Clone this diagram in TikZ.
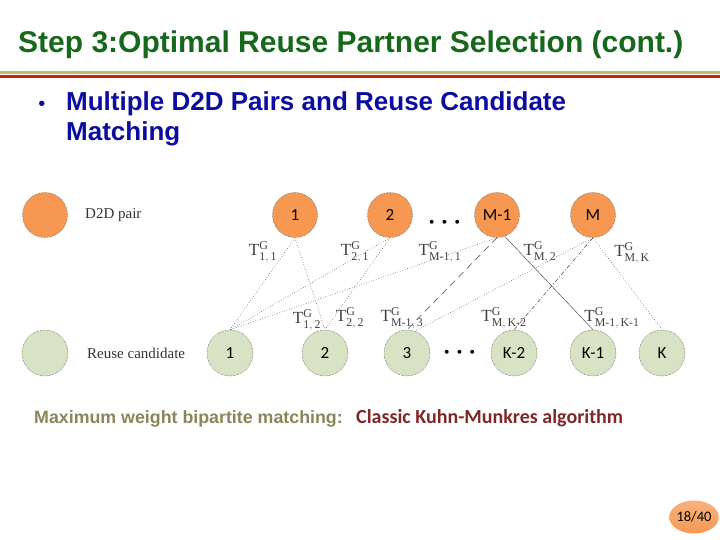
\documentclass[tikz,border=0pt]{standalone}
\usepackage{amsmath}
\usepackage{fontspec}
\setmainfont{Liberation Serif}
\newfontfamily\arialf{Liberation Sans}
\newfontfamily\calib{Carlito}
\usetikzlibrary{shapes.geometric}
\definecolor{titlegreen}{RGB}{22,104,26}
\definecolor{lineolive}{RGB}{190,188,105}
\definecolor{linered}{RGB}{200,36,12}
\definecolor{bulletblue}{RGB}{12,12,160}
\definecolor{d2dorange}{RGB}{246,152,82}
\definecolor{candgreen}{RGB}{216,226,196}
\definecolor{edgegray}{RGB}{70,70,70}
\definecolor{olivetext}{RGB}{138,134,90}
\definecolor{darkredtext}{RGB}{128,40,40}
\tikzset{
  pairnode/.style={circle, fill=d2dorange, draw=black!70, densely dotted, line width=0.5pt,
    minimum size=45pt, inner sep=0pt, font=\calib\fontsize{17}{17}\selectfont},
  candnode/.style={circle, fill=candgreen, draw=black!70, densely dotted, line width=0.5pt,
    minimum size=46pt, inner sep=0pt, font=\calib\fontsize{17}{17}\selectfont},
  link/.style={draw=edgegray, line width=0.55pt, dotted},
  wlabel/.style={inner sep=0pt, text=black!75, font=\fontsize{17}{17}\selectfont},
  legtext/.style={anchor=west, inner sep=0pt, text=black!80, font=\fontsize{15}{15}\selectfont},
  dotsnode/.style={inner sep=0pt, font=\fontsize{26}{26}\selectfont\boldmath},
  bultext/.style={anchor=base west, inner sep=0pt, text=bulletblue,
    font=\arialf\bfseries\fontsize{26}{30}\selectfont}
}
\begin{document}
\begin{tikzpicture}[x=1pt,y=-1pt]
\useasboundingbox (0,0) rectangle (720,540);
% title
\node[anchor=base west, inner sep=0pt, text=titlegreen,
  font=\arialf\bfseries\fontsize{30}{32}\selectfont] (title) at (18,53)
  {Step 3:Optimal Reuse Partner Selection (cont.)};
\fill[lineolive] (0,70.6) rectangle (720,74.2);
\fill[linered] (0,74.8) rectangle (720,78.2);
% bullet
\node[anchor=base, inner sep=0pt, text=bulletblue, font=\arialf\fontsize{20}{20}\selectfont] (bul) at (42,110.5) {•};
\node[bultext] (btext1) at (66,110.5) {Multiple D2D Pairs and Reuse Candidate};
\node[bultext] (btext2) at (66,141) {Matching};
% legend
\node[pairnode] (legp) at (45,215) {};
\node[legtext] (legpt) at (85,215) {D2D pair};
\node[candnode] (legc) at (45,353) {};
\node[legtext] (legct) at (87,353) {Reuse candidate};
% top row
\node[pairnode] (t1) at (295,215) {1};
\node[pairnode] (t2) at (390,215) {2};
\node[pairnode] (tM1) at (497,215) {M-1};
\node[pairnode] (tM) at (593,215) {M};
\node[dotsnode] (tdots) at (447,223) {$\cdots$};
% bottom row
\node[candnode] (b1) at (230,353) {1};
\node[candnode] (b2) at (325,353) {2};
\node[candnode] (b3) at (407,353) {3};
\node[candnode] (bK2) at (514,353) {K-2};
\node[candnode] (bK1) at (593,353) {K-1};
\node[candnode] (bK) at (662,353) {K};
\node[dotsnode] (bdots) at (462,353) {$\cdots$};
% links
\draw[link] (t1.south) -- (b1.north);
\draw[link] (t1.south) -- (b2.north);
\draw[link] (t2.south) -- (b1.north);
\draw[link] (t2.south) -- (b2.north);
\draw[link] (tM1.south) -- (b1.north);
\draw[link, dash pattern=on 7pt off 5pt] (tM1.south) -- (b3.north);
\draw[link, solid, line width=0.45pt] (tM1.-70) -- (bK1.north);
\draw[link] (tM.south) -- (b3.70);
\draw[link, dash pattern=on 4pt off 2pt on 1pt off 2pt] (tM.south) -- (bK2.north);
\draw[link] (tM.south) -- (bK.north);
% weight labels
\node[wlabel] (w11) at (263,252) {$\mathrm{T}^{\mathrm{G}}_{\mathrm{1,\,1}}$};
\node[wlabel] (w21) at (355,252) {$\mathrm{T}^{\mathrm{G}}_{\mathrm{2,\,1}}$};
\node[wlabel] (wM11) at (440,252) {$\mathrm{T}^{\mathrm{G}}_{\mathrm{M\text{-}1,\,1}}$};
\node[wlabel] (wM2) at (540,252) {$\mathrm{T}^{\mathrm{G}}_{\mathrm{M,\,2}}$};
\node[wlabel] (wMK) at (632,253) {$\mathrm{T}^{\mathrm{G}}_{\mathrm{M,\,K}}$};
\node[wlabel] (w12) at (307,320) {$\mathrm{T}^{\mathrm{G}}_{\mathrm{1,\,2}}$};
\node[wlabel] (w22) at (350,318) {$\mathrm{T}^{\mathrm{G}}_{\mathrm{2,\,2}}$};
\node[wlabel] (wM13) at (402,318) {$\mathrm{T}^{\mathrm{G}}_{\mathrm{M\text{-}1,\,3}}$};
\node[wlabel] (wMK2) at (504,318) {$\mathrm{T}^{\mathrm{G}}_{\mathrm{M,\,K\text{-}2}}$};
\node[wlabel] (wM1K1) at (612,318) {$\mathrm{T}^{\mathrm{G}}_{\mathrm{M\text{-}1,\,K\text{-}1}}$};
% bottom text
\node[anchor=base west, inner sep=0pt, text=olivetext,
  font=\arialf\bfseries\fontsize{17.8}{18}\selectfont] (mw) at (34,423)
  {Maximum weight bipartite matching:};
\node[anchor=base west, inner sep=0pt, text=darkredtext,
  font=\calib\bfseries\fontsize{20}{20}\selectfont] (km) at (356,423)
  {Classic Kuhn-Munkres algorithm};
% page number
\node[ellipse, minimum width=37pt, minimum height=33pt, inner sep=0pt,
  top color=d2dorange!75!white, bottom color=d2dorange,
  font=\calib\fontsize{14.5}{14.5}\selectfont] (pg) at (694,517) {18/40};
\end{tikzpicture}
\end{document}
